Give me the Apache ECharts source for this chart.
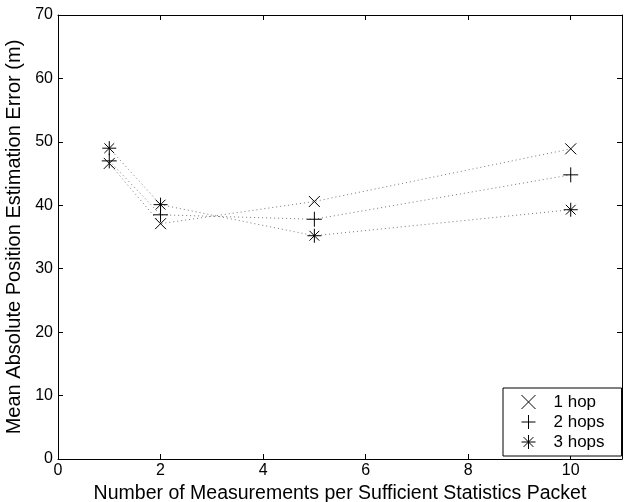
<!DOCTYPE html>
<html>
<head>
<meta charset="utf-8">
<script src="https://cdn.jsdelivr.net/npm/echarts@6/dist/echarts.min.js"></script>
<style>
  html, body { margin: 0; padding: 0; background: #fff; }
  #chart { width: 625px; height: 502px; }
</style>
</head>
<body>
<div id="chart"></div>
<script>
  // measurements per packet
  var xValues = [1, 2, 5, 10];
  // mean absolute error (m), per hop count
  var hop1 = [46.6, 37.1, 40.6, 48.9];
  var hop2 = [47.0, 38.5, 37.8, 44.8];
  var hop3 = [49.0, 40.1, 35.2, 39.3];
  var seriesNames = ['1 hop', '2 hops', '3 hops'];

  var FONT = '"Liberation Sans", Arial, Helvetica, sans-serif';
  var symX = 'path://M0 0L20 20M20 0L0 20';
  var symPlus = 'path://M10 0L10 20M0 10L20 10';
  var symStar = 'path://M10 0L10 20M0 10L20 10M3 3L17 17M17 3L3 17';

  function pairs(ys) {
    return xValues.map(function (x, i) { return [x, ys[i]]; });
  }

  function makeSeries(name, ys, symbol, size) {
    return {
      name: name,
      type: 'line',
      data: pairs(ys),
      symbol: symbol,
      symbolSize: size,
      showAllSymbol: true,
      silent: true,
      animation: false,
      itemStyle: { color: '#000', borderColor: '#000', borderWidth: 1 },
      lineStyle: { color: '#777', width: 1, type: [1, 3] },
      emphasis: { disabled: true }
    };
  }

  // box-style axis: black line, short ticks pointing into the plot
  function boxAxis(extra) {
    var base = {
      type: 'value',
      axisLine: { show: true, onZero: false, lineStyle: { color: '#000', width: 1 } },
      axisTick: { show: true, inside: true, length: 5, lineStyle: { color: '#000' } },
      splitLine: { show: false }
    };
    return Object.assign(base, extra);
  }

  var chart = echarts.init(document.getElementById('chart'));

  var option = {
    backgroundColor: '#fff',
    animation: false,
    grid: { left: 58, right: 3, top: 15, bottom: 43, containLabel: false, outerBoundsMode: 'none' },
    legend: {
      orient: 'vertical',
      left: 503,
      top: 388,
      padding: [4, 17, 4, 18],
      itemWidth: 14,
      itemHeight: 14,
      itemGap: 0,
      backgroundColor: '#fff',
      borderColor: '#000',
      borderWidth: 1,
      borderRadius: 0,
      itemStyle: { color: '#000', borderColor: '#000', borderWidth: 1 },
      textStyle: { fontFamily: FONT, fontSize: 17, color: '#000', lineHeight: 20, padding: [0, 0, 0, 13] },
      data: [
        { name: seriesNames[0], icon: symX },
        { name: seriesNames[1], icon: symPlus },
        { name: seriesNames[2], icon: symStar }
      ]
    },
    xAxis: [
      boxAxis({
        min: 0,
        max: 11,
        interval: 2,
        name: 'Number of Measurements per Sufficient Statistics Packet',
        nameLocation: 'middle',
        nameGap: 23,
        nameTextStyle: { fontFamily: FONT, fontSize: 19.5, color: '#000' },
        axisLabel: {
          fontFamily: FONT, fontSize: 16, color: '#000', margin: 4,
          showMaxLabel: false,
          formatter: function (v) { return v % 2 === 0 ? String(v) : ''; }
        }
      }),
      boxAxis({
        position: 'top',
        min: 0,
        max: 11,
        interval: 2,
        axisLabel: { show: false }
      })
    ],
    yAxis: [
      boxAxis({
        min: 0,
        max: 70,
        interval: 10,
        name: 'Mean Absolute Position Estimation Error (m)',
        nameLocation: 'middle',
        nameGap: 26,
        nameTextStyle: { fontFamily: FONT, fontSize: 20, color: '#000' },
        axisLabel: { fontFamily: FONT, fontSize: 16, color: '#000', margin: 5 }
      }),
      boxAxis({
        position: 'right',
        min: 0,
        max: 70,
        interval: 10,
        axisLabel: { show: false }
      })
    ],
    series: [
      makeSeries(seriesNames[0], hop1, symX, 11),
      makeSeries(seriesNames[1], hop2, symPlus, 15),
      makeSeries(seriesNames[2], hop3, symStar, 14)
    ]
  };

  chart.setOption(option);
</script>
</body>
</html>
